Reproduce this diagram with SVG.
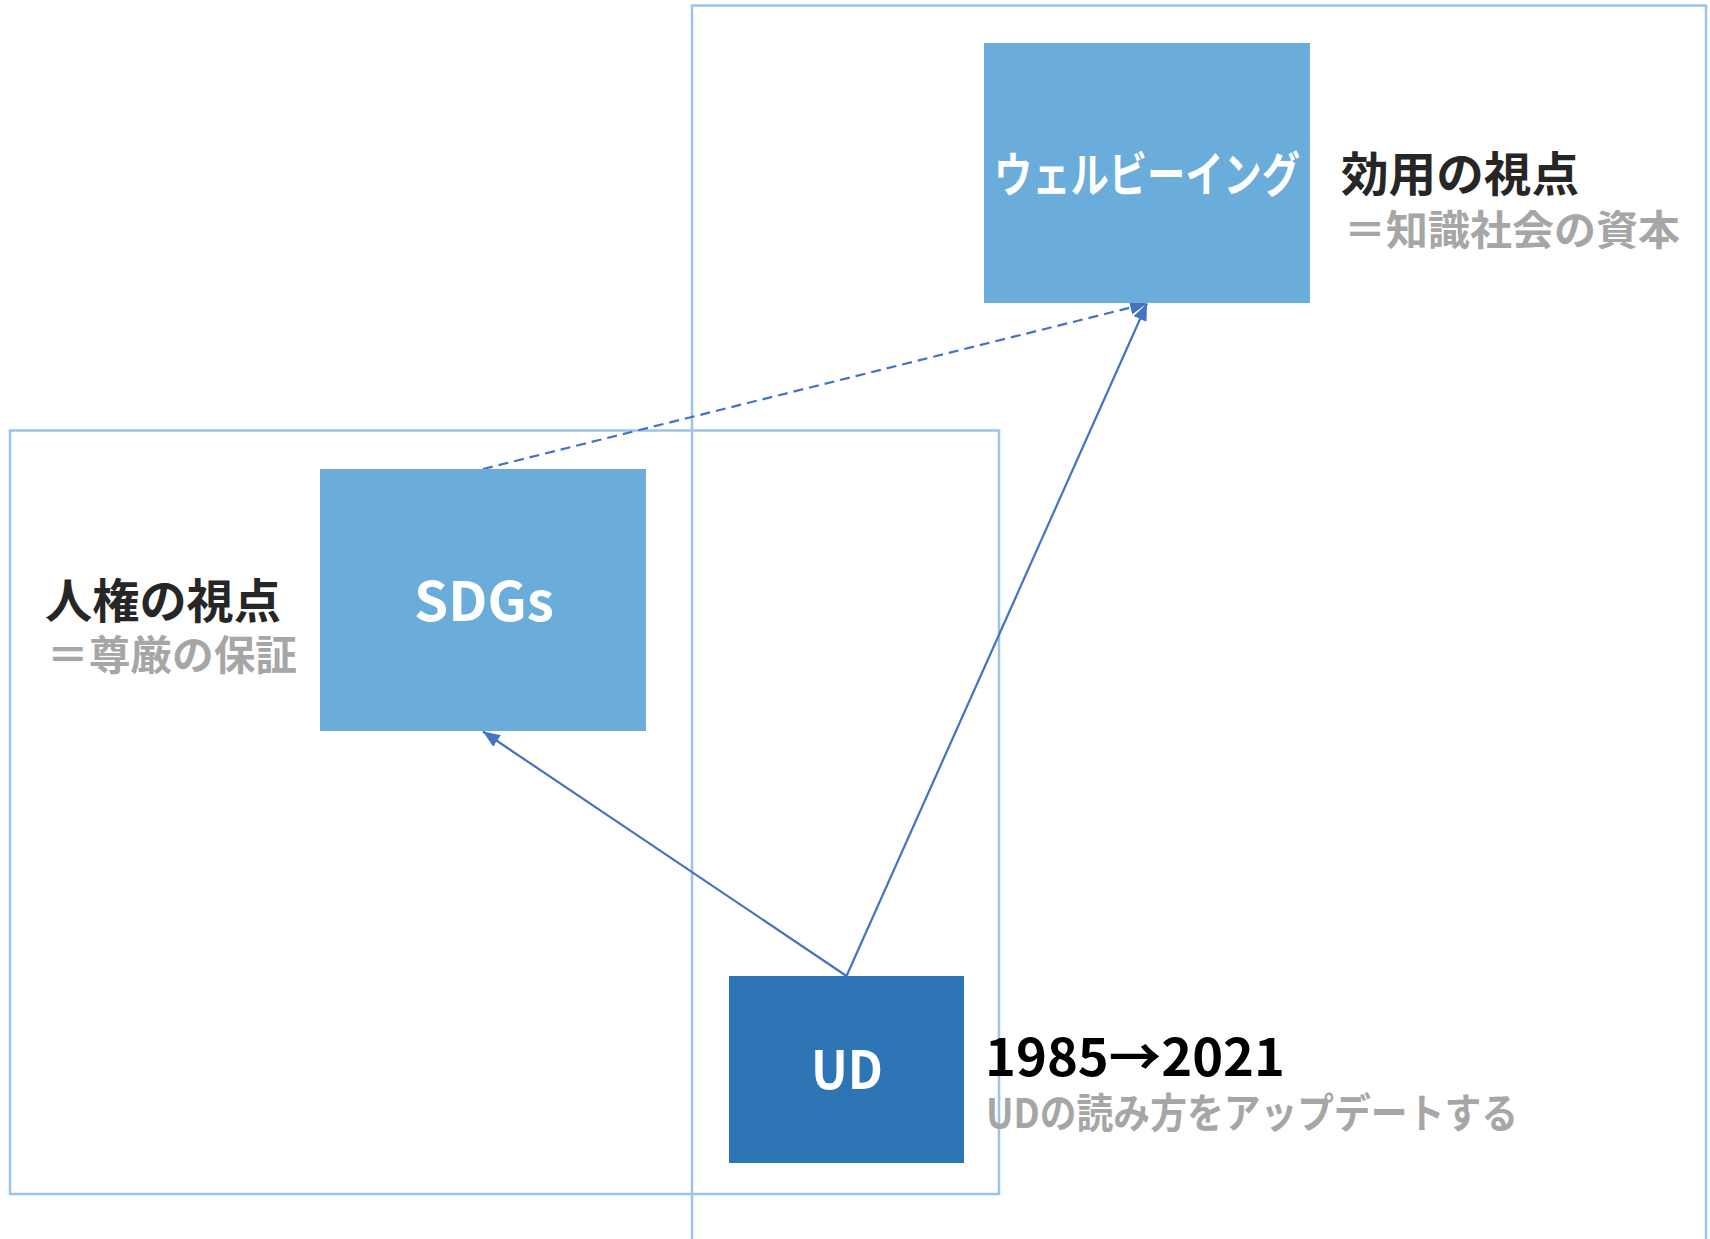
<svg xmlns="http://www.w3.org/2000/svg" width="1710" height="1239" viewBox="0 0 1710 1239">
<style>
.frame{fill:none;stroke:#9DC3E6;stroke-width:2.5}
.lite{fill:#6AADDA}
.dark{fill:#2E75B6}
.lbl{font-family:"Noto Sans CJK JP","Noto Sans",sans-serif;font-weight:bold}
.w{fill:#FFFFFF}
.k{fill:#262626}
.g{fill:#A6A6A6}
.conn{fill:none;stroke:#4472C4;stroke-width:2.2}
.dash{stroke-dasharray:10 6}
</style>
<defs>
<marker id="ah" markerUnits="userSpaceOnUse" markerWidth="17" markerHeight="14" viewBox="0 0 17 14" refX="17" refY="7" orient="auto">
<path d="M0,0 L17,7 L0,14 z" fill="#4472C4"/>
</marker>
</defs>
<rect width="1710" height="1239" fill="#FFFFFF"/>
<g id="frame-utility">
<rect class="frame" x="692" y="5.5" width="1014" height="1250"/>
</g>
<g id="frame-rights">
<rect class="frame" x="10" y="430.5" width="989" height="763.5"/>
</g>
<g id="connectors">
<line class="conn dash" x1="483" y1="469" x2="1147" y2="303.5" marker-end="url(#ah)"/>
<line class="conn" x1="846.5" y1="976" x2="1147" y2="303.5" marker-end="url(#ah)"/>
<line class="conn" x1="846.5" y1="976" x2="483" y2="731.5" marker-end="url(#ah)"/>
</g>
<g id="node-wellbeing">
<rect class="lite" x="984" y="43" width="326" height="260"/>
<text class="lbl w" x="1147" y="192" font-size="48" text-anchor="middle" textLength="306" lengthAdjust="spacingAndGlyphs">ウェルビーイング</text>
</g>
<g id="label-utility">
<text class="lbl k" x="1341" y="191" font-size="47" textLength="238" lengthAdjust="spacingAndGlyphs">効用の視点</text>
<text class="lbl g" x="1344" y="245" font-size="41" textLength="336" lengthAdjust="spacingAndGlyphs">＝知識社会の資本</text>
</g>
<g id="node-sdgs">
<rect class="lite" x="320" y="469" width="326" height="262"/>
<text class="lbl w" x="484" y="621" font-size="54" text-anchor="middle" textLength="140" lengthAdjust="spacingAndGlyphs">SDGs</text>
</g>
<g id="label-rights">
<text class="lbl k" x="45" y="618" font-size="47" textLength="236" lengthAdjust="spacingAndGlyphs">人権の視点</text>
<text class="lbl g" x="47" y="670" font-size="41" textLength="250" lengthAdjust="spacingAndGlyphs">＝尊厳の保証</text>
</g>
<g id="node-ud">
<rect class="dark" x="729" y="976" width="235" height="187"/>
<text class="lbl w" x="847" y="1089" font-size="52" text-anchor="middle" textLength="72" lengthAdjust="spacingAndGlyphs">UD</text>
</g>
<g id="label-ud">
<text class="lbl" fill="#000000" x="985" y="1076" font-size="51" textLength="300" lengthAdjust="spacingAndGlyphs">1985→2021</text>
<text class="lbl g" x="986" y="1128" font-size="41" textLength="532" lengthAdjust="spacingAndGlyphs">UDの読み方をアップデートする</text>
</g>
</svg>
